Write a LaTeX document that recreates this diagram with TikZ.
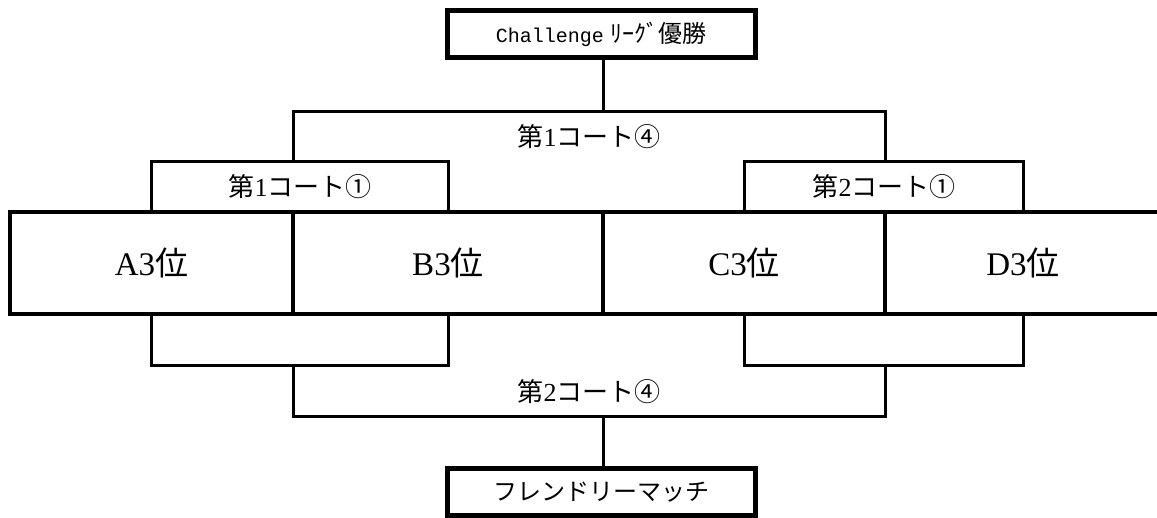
\documentclass[tikz,border=0pt]{standalone}
\usepackage{fontspec}
\setmainfont{Liberation Serif}
\setmonofont{Liberation Mono}
\newfontfamily\jpfont{Noto Sans CJK JP}
\usetikzlibrary{positioning}

\begin{document}
\begin{tikzpicture}[
            x = 1pt, y = 1pt, % pixel-like units
            node distance = 0pt, % team boxes touch each other
            bracket/.style = {line width = 3pt} % line style
        ]

        \tikzstyle{teambox}=[
            draw = black,
            line width = 4.5pt,
            outer sep = 0pt,
            minimum height = 102pt,
            font = \fontsize{33}{36}\selectfont
        ]
        \tikzstyle{cupbox}=[
            draw = black,
            line width = 5pt,
            outer sep = 0pt,
            minimum width = 308pt,
            minimum height = 47pt,
            font = \fontsize{24}{28}\selectfont
        ]
        \tikzstyle{court}=[font = \fontsize{26}{30}\selectfont]

        \useasboundingbox (0,0) rectangle (1157,518);
        \clip (0,0) rectangle (1157,518);

        \node[teambox, minimum width=283pt] (A) at (151.5,255) {A3{\jpfont 位}};
        \node[teambox, minimum width=310pt] (B) [right=of A] {B3{\jpfont 位}};
        \node[teambox, minimum width=282pt] (C) [right=of B] {C3{\jpfont 位}};
        \node[teambox, minimum width=276pt] (D) [right=of C] {D3{\jpfont 位}};

        \node[cupbox] (champ) at (601,484) {{\ttfamily\fontsize{20}{24}\selectfont Challenge} {\jpfont ﾘｰｸﾞ優勝}};
        \node[cupbox] (friendly) at (601,26) {\jpfont フレンドリーマッチ};

        % upper side
        \draw[bracket] (A.north) -- ++(0,50) -| (B.north);
        \draw[bracket] (C.north) -- ++(0,50) -| (D.north);
        \draw[bracket] ([yshift=50pt]A.north east) -- ++(0,50) -| ([yshift=50pt]C.north east);
        \draw[bracket] (champ.south -| B.north east) -- ([yshift=100pt]B.north east);

        % lower side
        \draw[bracket] (A.south) -- ++(0,-52) -| (B.south);
        \draw[bracket] (C.south) -- ++(0,-52) -| (D.south);
        \draw[bracket] ([yshift=-52pt]A.south east) -- ++(0,-51) -| ([yshift=-52pt]C.south east);
        \draw[bracket] ([yshift=-103pt]B.south east) -- (friendly.north -| B.south east);

        \node[court] (r1) at (300,331) {{\jpfont 第}1{\jpfont コート①}};
        \node[court] (r2) at (884,331) {{\jpfont 第}2{\jpfont コート①}};
        \node[court] (s1) at (589,381) {{\jpfont 第}1{\jpfont コート④}};
        \node[court] (s2) at (589,126) {{\jpfont 第}2{\jpfont コート④}};

  \end{tikzpicture}
\end{document}
